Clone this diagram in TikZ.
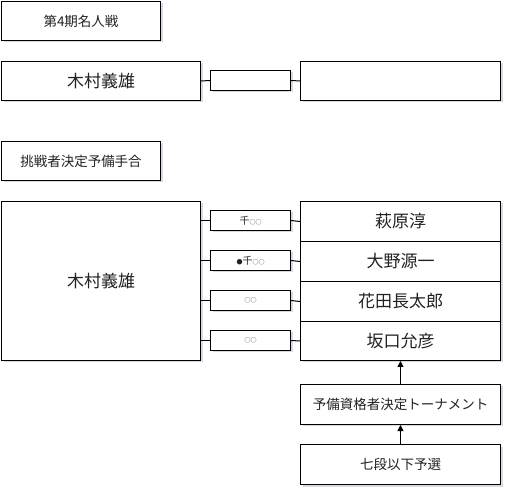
\documentclass[tikz,border=0pt]{standalone}
\usepackage{fontspec}
\setmainfont{Noto Sans CJK JP}
\usetikzlibrary{shadows,arrows.meta}
\definecolor{txt}{HTML}{222222}
\definecolor{shd}{HTML}{8A93B8}
\tikzset{
  box/.style={draw=black, line width=1pt, fill=white, rectangle, inner sep=0pt, anchor=north west,
    text=txt, drop shadow={shadow xshift=2pt, shadow yshift=-2pt, fill=shd, opacity=0.35}},
  big/.style={font=\fontsize{17}{20}\selectfont},
  mid/.style={font=\fontsize{13.5}{16}\selectfont},
  sml/.style={font=\fontsize{10}{12}\selectfont},
  conn/.style={draw=black, line width=1pt},
  arr/.style={draw=black, line width=1pt, -{Triangle[length=6pt,width=6pt]}},
}
\newcommand{\oo}{{\fontsize{6}{6}\selectfont ○○}}
\begin{document}
\begin{tikzpicture}[x=1pt,y=-1pt]
\useasboundingbox (0,0) rectangle (507,492);
% top section
\node[box, mid, minimum width=159pt, minimum height=39pt] (title) at (1,1) {第4期名人戦};
\node[box, big, minimum width=199pt, minimum height=39pt] (kimuraA) at (1,61) {木村義雄};
\node[box, minimum width=80pt, minimum height=20pt] (resA) at (210,70) {};
\node[box, minimum width=200pt, minimum height=39pt] (oppA) at (300,61) {};
\draw[conn] (kimuraA.east) -- (resA.west);
\draw[conn] (resA.east) -- (oppA.west);
% second section
\node[box, mid, minimum width=159pt, minimum height=39pt] (title2) at (1,141) {挑戦者決定予備手合};
\node[box, big, minimum width=199pt, minimum height=159pt] (kimuraB) at (1,201) {木村義雄};
\node[box, big, minimum width=200pt, minimum height=40pt] (p1) at (300,201) {萩原淳};
\node[box, big, minimum width=200pt, minimum height=40pt] (p2) at (300,241) {大野源一};
\node[box, big, minimum width=200pt, minimum height=40pt] (p3) at (300,281) {花田長太郎};
\node[box, big, minimum width=200pt, minimum height=39pt] (p4) at (300,321) {坂口允彦};
\node[box, sml, minimum width=80pt, minimum height=20pt] (r1) at (210,210) {千\oo};
\node[box, sml, minimum width=80pt, minimum height=20pt] (r2) at (210,250) {{\fontsize{6}{6}\selectfont ●}千\oo};
\node[box, sml, minimum width=80pt, minimum height=20pt] (r3) at (210,290) {\oo};
\node[box, sml, minimum width=80pt, minimum height=20pt] (r4) at (210,330) {\oo};
\foreach \i in {1,...,4}{
  \draw[conn] (kimuraB.east |- r\i.west) -- (r\i.west);
  \draw[conn] (r\i.east) -- (p\i.west);
}
\node[box, mid, minimum width=200pt, minimum height=40pt] (tour) at (300,384) {予備資格者決定トーナメント};
\node[box, mid, minimum width=200pt, minimum height=40pt] (pre) at (300,444) {七段以下予選};
\draw[arr] (tour.north) -- (p4.south);
\draw[arr] (pre.north) -- (tour.south);
\end{tikzpicture}
\end{document}
